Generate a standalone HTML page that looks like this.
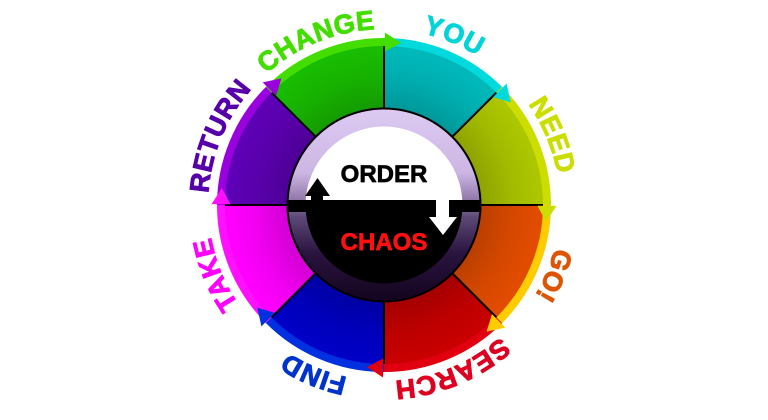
<!DOCTYPE html>
<html>
<head>
<meta charset="utf-8">
<style>
  html,body{margin:0;padding:0;background:#fff;}
  svg{display:block;}
  .lbl{font-family:"Liberation Sans",sans-serif;font-weight:bold;font-size:27px;letter-spacing:0.5px;stroke-width:0.9px;stroke-linejoin:round;}
  .ctr{font-family:"Liberation Sans",sans-serif;font-weight:bold;font-size:24px;stroke-width:0.7px;stroke-linejoin:round;}
</style>
</head>
<body>
<svg width="768" height="420" viewBox="0 0 768 420" xmlns="http://www.w3.org/2000/svg">
  <defs>
    <radialGradient id="shade" cx="384" cy="205" r="160" gradientUnits="userSpaceOnUse">
      <stop offset="0" stop-color="#000" stop-opacity="0.25"/>
      <stop offset="0.6" stop-color="#000" stop-opacity="0.18"/>
      <stop offset="0.8" stop-color="#000" stop-opacity="0.06"/>
      <stop offset="0.97" stop-color="#000" stop-opacity="0"/>
    </radialGradient>
    <linearGradient id="ring" x1="0" y1="0" x2="0" y2="1">
      <stop offset="0" stop-color="#dccaf2"/>
      <stop offset="0.33" stop-color="#cdb6e4"/>
      <stop offset="0.5" stop-color="#866c9e"/>
      <stop offset="0.56" stop-color="#5e4a78"/>
      <stop offset="0.75" stop-color="#2a1440"/>
      <stop offset="1" stop-color="#14041e"/>
    </linearGradient>
    <path id="lblcircle" d="M384,29 A176,176 0 1 1 384,381 A176,176 0 1 1 384,29"/>
  </defs>

  <!-- segments -->
  <g transform="translate(384,205)">
    <path transform="rotate(0)"   d="M0,0 L0,-160 A160,160 0 0 1 113.14,-113.14 Z" fill="#00b8ba"/>
    <path transform="rotate(45)"  d="M0,0 L0,-160 A160,160 0 0 1 113.14,-113.14 Z" fill="#acc600"/>
    <path transform="rotate(90)"  d="M0,0 L0,-160 A160,160 0 0 1 113.14,-113.14 Z" fill="#e24c00"/>
    <path transform="rotate(135)" d="M0,0 L0,-160 A160,160 0 0 1 113.14,-113.14 Z" fill="#c80000"/>
    <path transform="rotate(180)" d="M0,0 L0,-160 A160,160 0 0 1 113.14,-113.14 Z" fill="#0000c6"/>
    <path transform="rotate(225)" d="M0,0 L0,-160 A160,160 0 0 1 113.14,-113.14 Z" fill="#ff00ff"/>
    <path transform="rotate(270)" d="M0,0 L0,-160 A160,160 0 0 1 113.14,-113.14 Z" fill="#5e00b6"/>
    <path transform="rotate(315)" d="M0,0 L0,-160 A160,160 0 0 1 113.14,-113.14 Z" fill="#18bc00"/>
  </g>
  <circle cx="384" cy="205" r="160" fill="url(#shade)"/>

  <!-- dividers -->
  <g transform="translate(384,205)" stroke="#000" stroke-width="2">
    <line x1="0" y1="-90" x2="0" y2="-160" transform="rotate(0)"/>
    <line x1="0" y1="-90" x2="0" y2="-160" transform="rotate(45)"/>
    <line x1="0" y1="-90" x2="0" y2="-160" transform="rotate(90)"/>
    <line x1="0" y1="-90" x2="0" y2="-160" transform="rotate(135)"/>
    <line x1="0" y1="-90" x2="0" y2="-160" transform="rotate(180)"/>
    <line x1="0" y1="-90" x2="0" y2="-160" transform="rotate(225)"/>
    <line x1="0" y1="-90" x2="0" y2="-160" transform="rotate(270)"/>
    <line x1="0" y1="-90" x2="0" y2="-160" transform="rotate(315)"/>
  </g>

  <!-- rims -->
  <g transform="translate(384,205)" fill="none" stroke-width="8">
    <path transform="rotate(0)"   d="M0,-163 A163,163 0 0 1 115.86,-114.65" stroke="#00dadc"/>
    <path transform="rotate(45)"  d="M0,-163 A163,163 0 0 1 115.86,-114.65" stroke="#ccdd00"/>
    <path transform="rotate(90)"  d="M0,-163 A163,163 0 0 1 115.86,-114.65" stroke="#ffcc00"/>
    <path transform="rotate(135)" d="M0,-163 A163,163 0 0 1 115.86,-114.65" stroke="#e00010"/>
    <path transform="rotate(180)" d="M0,-163 A163,163 0 0 1 115.86,-114.65" stroke="#0030e0"/>
    <path transform="rotate(225)" d="M0,-163 A163,163 0 0 1 115.86,-114.65" stroke="#ff10ff"/>
    <path transform="rotate(270)" d="M0,-163 A163,163 0 0 1 115.86,-114.65" stroke="#9a00dd"/>
    <path transform="rotate(315)" d="M0,-163 A163,163 0 0 1 115.86,-114.65" stroke="#44dd00"/>
  </g>
  <!-- arrowheads -->
  <g transform="translate(384,205)">
    <polygon transform="rotate(0)"   points="109.11,-107.97 122.61,-121.33 126.68,-102.58" fill="#00dadc"/>
    <polygon transform="rotate(45)"  points="109.11,-107.97 122.61,-121.33 126.68,-102.58" fill="#ccdd00"/>
    <polygon transform="rotate(90)"  points="109.11,-107.97 122.61,-121.33 126.68,-102.58" fill="#ffcc00"/>
    <polygon transform="rotate(135)" points="109.11,-107.97 122.61,-121.33 126.68,-102.58" fill="#e00010"/>
    <polygon transform="rotate(180)" points="109.11,-107.97 122.61,-121.33 126.68,-102.58" fill="#0030e0"/>
    <polygon transform="rotate(225)" points="109.11,-107.97 122.61,-121.33 126.68,-102.58" fill="#ff10ff"/>
    <polygon transform="rotate(270)" points="109.11,-107.97 122.61,-121.33 126.68,-102.58" fill="#9a00dd"/>
    <polygon transform="rotate(315)" points="109.11,-107.97 122.61,-121.33 126.68,-102.58" fill="#44dd00"/>
  </g>

  <!-- labels -->
  <text class="lbl" fill="#00d4d8" stroke="#00d4d8"><textPath href="#lblcircle" startOffset="69.11" text-anchor="middle">YOU</textPath></text>
  <text class="lbl" fill="#ccdd00" stroke="#ccdd00"><textPath href="#lblcircle" startOffset="207.35" text-anchor="middle">NEED</textPath></text>
  <text class="lbl" fill="#dd5500" stroke="#dd5500"><textPath href="#lblcircle" startOffset="345.58" text-anchor="middle">GO!</textPath></text>
  <text class="lbl" fill="#dd0020" stroke="#dd0020"><textPath href="#lblcircle" startOffset="483.81" text-anchor="middle">SEARCH</textPath></text>
  <text class="lbl" fill="#0033cc" stroke="#0033cc"><textPath href="#lblcircle" startOffset="622.04" text-anchor="middle">FIND</textPath></text>
  <text class="lbl" fill="#ff00ff" stroke="#ff00ff"><textPath href="#lblcircle" startOffset="760.26" text-anchor="middle">TAKE</textPath></text>
  <text class="lbl" fill="#5500aa" stroke="#5500aa"><textPath href="#lblcircle" startOffset="898.49" text-anchor="middle">RETURN</textPath></text>
  <text class="lbl" fill="#44dd00" stroke="#44dd00"><textPath href="#lblcircle" startOffset="1036.72" text-anchor="middle">CHANGE</textPath></text>

  <!-- center disc -->
  <circle cx="384" cy="205" r="97.5" fill="#000"/>
  <circle cx="384" cy="205" r="95.5" fill="url(#ring)"/>
  <path d="M305.5,205 A78.5,78.5 0 0 1 462.5,205 Z" fill="#fff"/>
  <path d="M305.5,205 A78.5,78.5 0 0 0 462.5,205 Z" fill="#000"/>

  <!-- bar -->
  <rect x="287" y="200" width="149" height="12" fill="#000"/>
  <rect x="449" y="200" width="32" height="12" fill="#000"/>

  <!-- up arrow (black) -->
  <polygon points="305,196 317.5,178 330,196" fill="#000"/>
  <rect x="311" y="194" width="12" height="8" fill="#000"/>

  <!-- down arrow (white) -->
  <rect x="436" y="199" width="13" height="19" fill="#fff"/>
  <polygon points="429,217 457,217 443,235" fill="#fff"/>

  <text class="ctr" x="384" y="182" text-anchor="middle" fill="#000" stroke="#000">ORDER</text>
  <text class="ctr" x="384" y="250" text-anchor="middle" fill="#ff1010" stroke="#ff1010">CHAOS</text>
</svg>
</body>
</html>
